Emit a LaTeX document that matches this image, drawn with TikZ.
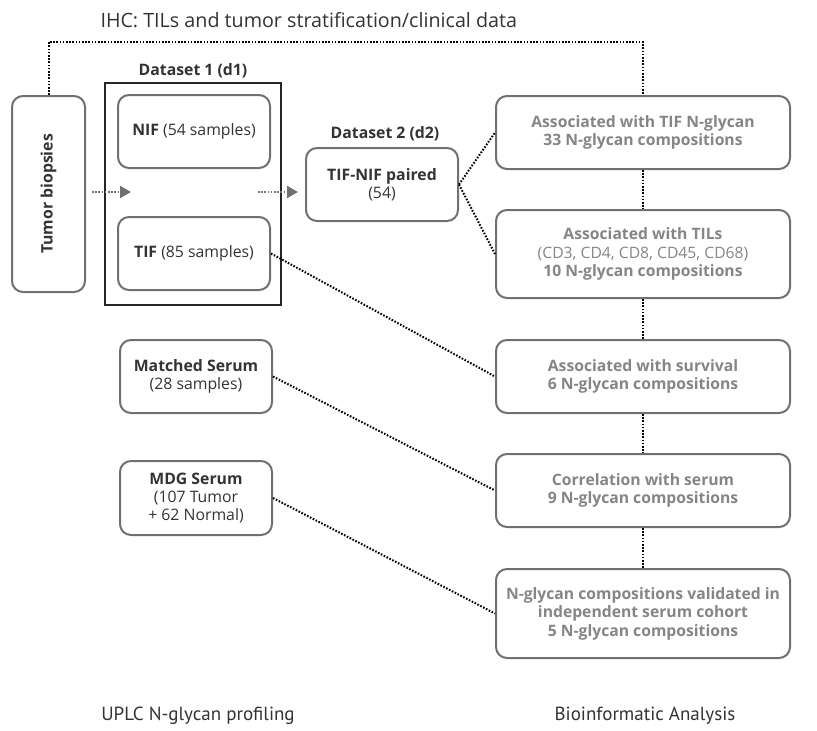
\documentclass[tikz,border=0pt]{standalone}
\usepackage{fontspec}
\setmainfont{Open Sans}
\newfontfamily\narrowfont{PT Sans}
\usetikzlibrary{arrows.meta}
\definecolor{boxgray}{HTML}{707070}
\definecolor{txtgray}{HTML}{858585}
\definecolor{darktxt}{HTML}{333333}
\tikzset{
  rbox/.style={draw=boxgray, line width=2pt, rounded corners=11pt, align=center, inner sep=0pt},
  lbox/.style={rbox, text=darktxt, font=\fontsize{15.8}{17.8}\selectfont},
  anbox/.style={rbox, text=txtgray, font=\fontsize{15.7}{18.5}\selectfont\bfseries, minimum width=294pt},
  dotline/.style={line width=2pt, dash pattern=on 1.6pt off 1.6pt},
  darr/.style={line width=2pt, dash pattern=on 1.6pt off 1.6pt, draw=boxgray, -{Triangle[length=11pt,width=12pt,fill=boxgray]}},
}
\begin{document}
\begin{tikzpicture}[x=1pt,y=-1pt]
\useasboundingbox (0,0) rectangle (817,731);
\node[text=darktxt, font=\fontsize{19.7}{22}\selectfont, anchor=west] (title) at (97,20) {IHC: TILs and tumor stratification/clinical data};
\node[lbox, minimum width=73pt, minimum height=196pt] (tumor) at (48.5,194) {};
\node[rotate=90, text=darktxt, font=\fontsize{15.8}{18}\selectfont\bfseries] (tumortxt) at (tumor.center) {Tumor biopsies};
\node[draw=black!85, line width=1.5pt, minimum width=176pt, minimum height=222pt, inner sep=0pt] (d1) at (193,194) {};
\node[text=darktxt, font=\fontsize{15.8}{18}\selectfont\bfseries] (d1lab) at (193,71) {Dataset 1 (d1)};
\node[lbox, minimum width=152pt, minimum height=73pt] (nif) at (194,131.5) {\textbf{NIF} (54 samples)};
\node[lbox, minimum width=152pt, minimum height=73pt] (tif) at (194,253.5) {\textbf{TIF} (85 samples)};
\node[text=darktxt, font=\fontsize{15.8}{18}\selectfont\bfseries] (d2lab) at (385,134) {Dataset 2 (d2)};
\node[lbox, minimum width=152pt, minimum height=73pt] (paired) at (382,184.5) {\textbf{TIF-NIF paired}\\(54)};
\node[lbox, minimum width=152pt, minimum height=73pt] (ms) at (196,376.5) {\textbf{Matched Serum}\\(28 samples)};
\node[lbox, minimum width=152pt, minimum height=74pt] (mdg) at (196,498) {\textbf{MDG Serum}\\(107 Tumor\\+ 62 Normal)};
\node[anbox, minimum height=73pt] (r1) at (643,132.5) {Associated with TIF N-glycan\\33 N-glycan compositions};
\node[anbox, minimum height=88pt] (r2) at (643,254) {Associated with TILs\\{\mdseries (CD3, CD4, CD8, CD45, CD68)}\\10 N-glycan compositions};
\node[anbox, minimum height=73pt] (r3) at (643,376.5) {Associated with survival\\6 N-glycan compositions};
\node[anbox, minimum height=73pt] (r4) at (643,490.5) {Correlation with serum\\9 N-glycan compositions};
\node[anbox, minimum height=89pt] (r5) at (643,613.5) {N-glycan compositions validated in\\independent serum cohort\\5 N-glycan compositions};
\node[text=darktxt, font=\narrowfont\fontsize{19}{22}\selectfont] (lab1) at (198,716) {UPLC N-glycan profiling};
\node[text=darktxt, font=\narrowfont\fontsize{19}{22}\selectfont] (lab2) at (645,716) {Bioinformatic Analysis};
% IHC line
\coordinate (ihcL) at (tumor.north |- 0,42);
\coordinate (ihcR) at (r1.north |- 0,42);
\draw[dotline] (tumor.north) -- (ihcL) -- (ihcR) -- (r1.north);
% arrows
\coordinate (a1s) at (92,192);
\coordinate (a1e) at (131,192);
\coordinate (a2s) at (258,192);
\coordinate (a2e) at (298,192);
\draw[darr] (a1s) -- (a1e);
\draw[darr] (a2s) -- (a2e);
% connectors
\draw[dotline] (paired.east) -- (r1.west);
\draw[dotline] (paired.east) -- (r2.west);
\draw[dotline] (tif.east) -- (r3.west);
\draw[dotline] (ms.east) -- (r4.west);
\draw[dotline] (mdg.east) -- (r5.west);
\draw[dotline] (r1.south) -- (r2.north);
\draw[dotline] (r2.south) -- (r3.north);
\draw[dotline] (r3.south) -- (r4.north);
\draw[dotline] (r4.south) -- (r5.north);
\end{tikzpicture}
\end{document}
